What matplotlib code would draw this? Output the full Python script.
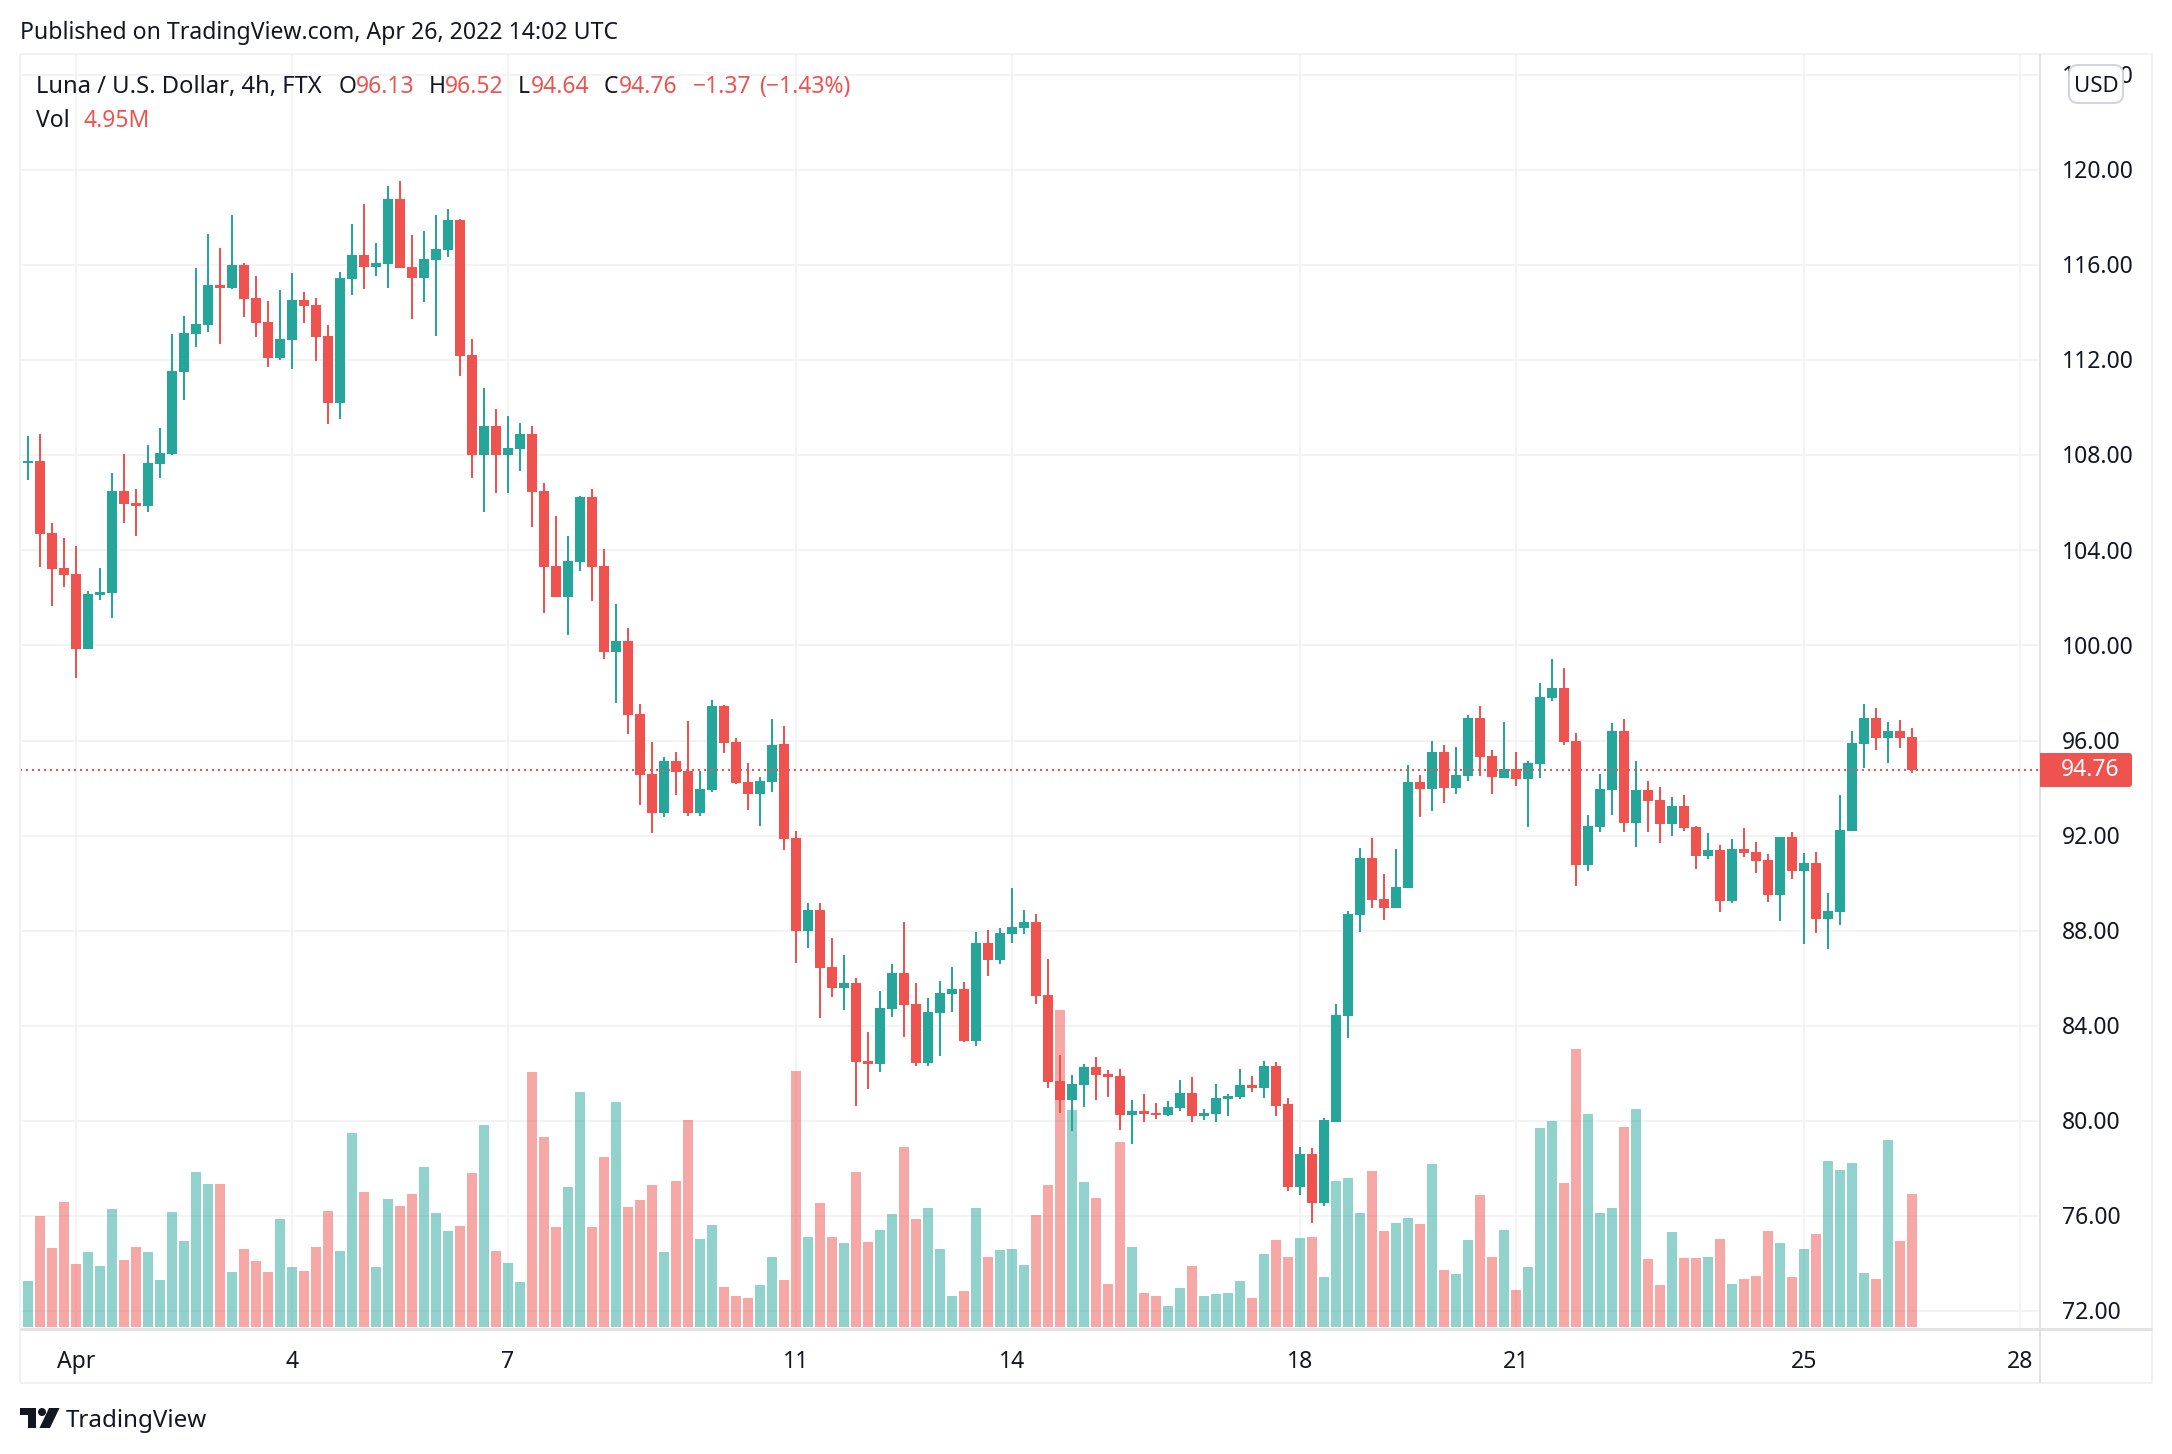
import matplotlib
matplotlib.use("Agg")
import matplotlib.pyplot as plt
from matplotlib.lines import Line2D
from matplotlib.patches import FancyBboxPatch, Polygon, Circle
from matplotlib.transforms import ScaledTranslation
import numpy as np

W, H = 2172, 1454

opens = [106.91,
 107.67,107.76,104.73,103.25,103.00,99.85,102.12,102.20,106.49,105.99,
 105.86,107.63,108.05,111.50,113.10,113.48,115.16,115.04,116.00,114.61,
 113.60,112.09,112.85,114.53,114.32,113.02,110.20,115.41,116.42,115.92,
 116.04,118.78,115.92,115.46,116.21,116.63,117.90,112.22,108.01,109.23,
 108.01,108.26,108.90,106.50,103.35,102.04,103.51,106.25,103.35,99.73,
 100.19,97.12,94.60,92.96,95.14,94.72,92.96,93.92,97.46,95.94,
 94.26,93.75,94.26,95.86,91.90,87.99,88.87,86.47,85.59,85.80,
 82.52,82.39,84.71,86.22,84.91,82.43,84.54,85.34,85.55,83.36,
 87.48,86.77,87.86,88.11,88.37,85.29,81.67,80.88,81.51,82.26,
 81.97,81.89,80.25,80.41,80.33,80.25,80.54,81.17,80.20,80.29,
 80.92,81.00,81.51,81.38,82.31,80.69,77.21,78.59,76.53,79.97,
 84.42,88.66,91.05,89.33,88.96,89.80,94.25,93.96,95.50,93.99,
 94.51,96.93,95.34,94.41,94.80,94.38,95.00,97.77,98.23,95.97,
 90.76,92.35,93.91,96.39,92.53,93.91,93.49,92.48,93.24,92.35,
 91.15,91.39,89.25,91.44,91.31,90.97,89.51,91.94,90.51,90.84,
 88.50,88.79,92.19,95.84,96.93,96.10,96.39,96.13]
highs = [107.71,
 108.81,108.89,105.15,104.52,104.18,102.29,103.25,107.25,108.05,106.58,
 108.43,109.14,113.10,113.86,115.88,117.31,116.72,118.11,116.09,115.54,
 114.49,114.95,115.67,114.87,114.61,113.48,115.71,117.73,118.57,116.93,
 119.33,119.54,117.27,117.43,118.11,118.36,117.94,112.89,110.83,109.94,
 109.65,109.35,109.24,106.84,105.45,104.61,106.29,106.59,104.06,101.75,
 100.74,97.54,95.94,95.31,95.52,96.83,94.72,97.71,97.50,96.11,
 95.06,94.47,96.91,96.62,92.19,89.17,89.17,87.69,86.98,86.01,
 83.74,85.46,86.60,88.37,85.80,85.17,85.88,86.47,85.84,87.94,
 88.03,88.11,89.80,88.87,88.70,86.81,82.77,81.93,82.39,82.69,
 82.14,82.18,80.88,81.13,80.75,80.83,81.72,81.84,80.50,81.55,
 81.13,82.18,81.89,82.52,82.48,80.98,78.92,78.84,80.10,84.93,
 88.84,91.47,91.90,90.38,91.44,94.96,94.54,95.97,95.81,95.71,
 97.06,97.45,95.60,96.77,95.50,95.15,98.41,99.41,99.04,96.31,
 92.87,94.59,96.72,96.90,95.13,94.30,94.04,93.62,93.70,92.40,
 92.11,91.60,91.86,92.32,91.73,91.23,91.94,92.15,91.26,91.31,
 89.59,93.70,96.39,97.53,97.35,96.80,96.85,96.52]
lows = [106.91,
 106.96,103.30,101.66,102.46,98.63,99.85,101.91,101.15,105.15,104.60,
 105.61,107.04,108.01,110.32,112.55,113.18,112.68,114.99,113.81,112.97,
 111.71,112.01,111.63,113.56,111.96,109.31,109.52,114.74,114.99,115.54,
 115.04,115.88,113.73,114.45,113.02,116.34,111.33,107.04,105.61,106.41,
 106.41,107.33,104.99,101.37,102.04,100.44,103.14,101.87,99.43,97.58,
 96.28,93.29,92.11,92.79,93.71,92.83,92.83,93.84,95.48,94.18,
 93.08,92.41,93.84,91.40,86.64,87.27,84.33,85.21,84.66,80.62,
 81.34,82.06,84.37,83.53,82.31,82.31,82.73,84.58,83.32,83.15,
 86.09,86.60,87.48,87.86,84.91,81.38,80.33,79.57,80.58,80.88,
 81.00,79.61,79.03,79.95,80.08,80.20,80.41,79.95,80.04,79.95,
 80.20,80.92,81.21,80.96,80.20,77.03,76.87,75.69,76.40,79.97,
 83.50,87.95,88.96,88.45,88.96,89.80,92.77,93.03,93.37,93.75,
 94.30,94.51,93.75,94.41,94.07,92.35,94.41,97.65,95.81,89.88,
 90.51,92.15,92.87,92.15,91.52,92.15,91.68,91.98,92.19,90.60,
 91.02,88.79,89.17,91.10,90.43,89.21,88.42,90.17,87.45,87.90,
 87.23,88.24,92.19,94.83,95.60,95.05,95.68,94.64]
closes = [107.71,
 107.76,104.68,103.21,102.96,99.85,102.16,102.24,106.49,105.95,105.86,
 107.67,108.09,111.54,113.14,113.52,115.16,115.04,116.00,114.57,113.56,
 112.09,112.89,114.53,114.28,112.97,110.20,115.46,116.42,115.92,116.09,
 118.78,115.88,115.46,116.26,116.68,117.90,112.17,108.01,109.23,108.01,
 108.30,108.89,106.46,103.30,102.04,103.56,106.25,103.30,99.73,100.19,
 97.08,94.55,92.96,95.14,94.68,92.96,93.96,97.46,95.90,94.22,
 93.75,94.30,95.82,91.86,87.99,88.87,86.43,85.59,85.80,82.48,
 82.39,84.75,86.22,84.87,82.43,84.58,85.38,85.55,83.36,87.48,
 86.77,87.90,88.15,88.37,85.25,81.63,80.88,81.55,82.26,81.93,
 81.84,80.25,80.41,80.29,80.25,80.58,81.17,80.20,80.33,80.96,
 81.05,81.51,81.38,82.31,80.62,77.21,78.59,76.53,80.02,84.47,
 88.71,91.05,89.30,88.96,89.85,94.25,93.96,95.50,93.99,94.54,
 96.93,95.29,94.46,94.80,94.38,95.05,97.82,98.23,95.92,90.76,
 92.40,93.96,96.39,92.53,93.91,93.45,92.48,93.24,92.32,91.15,
 91.39,89.25,91.44,91.26,90.92,89.51,91.94,90.51,90.84,88.50,
 88.84,92.23,95.89,96.93,96.10,96.39,96.10,94.76]
volumes = [3.92,
 1.71,4.13,2.94,4.65,2.34,2.79,2.27,4.39,2.49,2.98,
 2.79,1.75,4.28,3.20,5.77,5.32,5.32,2.05,2.90,2.46,
 2.05,4.02,2.23,2.08,2.98,4.32,2.83,7.22,5.02,2.23,
 4.76,4.50,4.95,5.95,4.24,3.57,3.76,5.73,7.52,2.83,
 2.38,1.67,9.49,7.07,3.72,5.21,8.75,3.72,6.33,8.37,
 4.47,4.73,5.28,2.79,5.43,7.70,3.28,3.80,1.49,1.15,
 1.08,1.56,2.61,1.75,9.53,3.35,4.62,3.35,3.13,5.77,
 3.16,3.61,4.21,6.70,4.02,4.43,2.90,1.15,1.34,4.43,
 2.61,2.87,2.90,2.31,4.17,5.28,11.80,8.08,5.40,4.80,
 1.60,6.89,2.98,1.27,1.15,0.78,1.45,2.27,1.15,1.23,
 1.27,1.71,1.08,2.72,3.24,2.61,3.31,3.35,1.86,5.43,
 5.55,4.24,5.81,3.57,3.87,4.06,3.83,6.07,2.12,1.97,
 3.24,4.91,2.61,3.61,1.38,2.23,7.41,7.67,5.36,10.35,
 7.93,4.24,4.43,7.44,8.11,2.53,1.56,3.54,2.57,2.57,
 2.61,3.28,1.60,1.79,1.90,3.57,3.13,1.86,2.90,3.46,
 6.18,5.84,6.10,2.01,1.79,6.96,3.20,4.95]

price_ticks = [72, 76, 80, 84, 88, 92, 96, 100, 104, 108, 112, 116, 120, 124]
date_ticks = [4, 22, 40, 64, 82, 106, 124, 148, 166]
date_labels = ["Apr", "4", "7", "11", "14", "18", "21", "25", "28"]
last_price = 94.76

UP, DOWN = "#26a69a", "#ef5350"
INK = "#131722"
GRID = "#f3f3f3"
BORDER = "#f0f0f5"
AXIS = "#e1e1e3"
FONT = ["Noto Sans", "DejaVu Sans"]
plt.rcParams["font.family"] = FONT

n = len(opens)
assert n == len(highs) == len(lows) == len(closes) == len(volumes) == 159
x = np.arange(-1, n - 1)
o, h, l, c = map(np.array, (opens, highs, lows, closes))
colors = [UP if cc >= oo else DOWN for oo, cc in zip(o, c)]

fig = plt.figure(figsize=(W / 100, H / 100), dpi=100, facecolor="white")

L, R, T, B = 20, 2040, 54, 1329
rect = [L / W, 1 - B / H, (R - L) / W, (B - T) / H]
xlim = ((L - 28) / 12, (R - 28) / 12)
ylim = (72 + (1311 - B) / 23.77, 72 + (1311 - T) / 23.77)
PX_M = 0.03722  # millions per pixel of height
vlim = (-(B - 1327) * PX_M, (1327 - T) * PX_M)

ax_grid = fig.add_axes(rect, zorder=1)
ax_vol = fig.add_axes(rect, zorder=2)
ax = fig.add_axes(rect, zorder=3)
for a in (ax_grid, ax_vol, ax):
    a.set_xlim(xlim)
    for s in a.spines.values():
        s.set_visible(False)
ax_grid.set_ylim(ylim)
ax.set_ylim(ylim)
ax_vol.set_ylim(vlim)
ax_vol.patch.set_visible(False)
ax.patch.set_visible(False)
ax_vol.set_xticks([]); ax_vol.set_yticks([])
ax.set_xticks([]); ax.set_yticks([])

ax_grid.set_yticks(price_ticks)
ax_grid.set_yticklabels([f"{p:.2f}" for p in price_ticks], fontsize=16.5, color=INK)
ax_grid.yaxis.tick_right()
ax_grid.tick_params(axis="y", length=0, pad=15.5)
ax_grid.set_xticks(date_ticks)
ax_grid.set_xticklabels(date_labels, fontsize=16.5, color=INK)
ax_grid.tick_params(axis="x", length=0, pad=16)
ax_grid.grid(True, color=GRID, linewidth=1.44)
ax_grid.set_axisbelow(True)
up_shift = ScaledTranslation(0, 0.8 / 100, fig.dpi_scale_trans)
for lbl in ax_grid.get_yticklabels() + ax_grid.get_xticklabels():
    lbl.set_transform(lbl.get_transform() + up_shift)

ax_vol.bar(x, volumes, width=10 / 12, color=colors, alpha=0.5, linewidth=0)

ax.bar(x, h - l, bottom=l, width=2 / 12, color=colors, linewidth=0)
ax.bar(x, np.abs(c - o), bottom=np.minimum(o, c), width=10 / 12, color=colors, linewidth=0)
ax.axhline(last_price, color=DOWN, linewidth=1.44, linestyle=(0, (1, 2)), dash_capstyle="butt")

def fx(px): return px / W
def fy(py): return 1 - py / H

def fline(x0, y0, x1, y1, col, lw=1.44):
    fig.add_artist(Line2D([fx(x0), fx(x1)], [fy(y0), fy(y1)], color=col, linewidth=lw,
                          transform=fig.transFigure, zorder=5, solid_capstyle="butt"))

# frame
fline(20, 54, 2152, 54, BORDER)
fline(20, 1383, 2152, 1383, BORDER)
fline(20, 54, 20, 1383, BORDER)
fline(2152, 54, 2152, 1383, BORDER)
fline(2040.5, 54, 2040.5, 1383, AXIS)
fline(20, 1329, 2152, 1329, AXIS, 2.0)

def ftext(px, py, s, col=INK, size=16.5, ha="left", **kw):
    return fig.text(fx(px), fy(py), s, color=col, fontsize=size, ha=ha, va="center", zorder=10, **kw)

ftext(20, 33, "Published on TradingView.com, Apr 26, 2022 14:02 UTC", size=16.6)
ftext(36, 87, "Luna / U.S. Dollar, 4h, FTX", size=17.1)
ftext(339, 87, "O"); ftext(356, 87, "96.13", DOWN)
ftext(429, 87, "H"); ftext(445, 87, "96.52", DOWN)
ftext(518, 87, "L"); ftext(531, 87, "94.64", DOWN)
ftext(604, 87, "C"); ftext(619, 87, "94.76", DOWN)
ftext(693, 87, "\u22121.37", DOWN)
ftext(759, 87, "(\u22121.43%)", DOWN)
ftext(36, 121, "Vol"); ftext(83, 121, "4.95M", DOWN)

# USD button
fig.add_artist(FancyBboxPatch((2069, H - 103), 54, 38, boxstyle="round,pad=0,rounding_size=9",
                              transform=None, facecolor="white", edgecolor="#d1d4dc", linewidth=1.44, zorder=9))
ftext(2096, 86, "USD", size=16, ha="center")

# last price tag
fig.add_artist(FancyBboxPatch((2040, H - 787), 92, 34, boxstyle="round,pad=0,rounding_size=3",
                              transform=None, facecolor=DOWN, edgecolor="none", zorder=9))
fig.add_artist(FancyBboxPatch((2040, H - 787), 20, 34, boxstyle="square,pad=0",
                              transform=None, facecolor=DOWN, edgecolor="none", zorder=9))
ftext(2061, 770, f"{last_price:.2f}", "white")

# logo
fig.add_artist(Polygon([(20, H - 1408), (36, H - 1408), (36, H - 1428), (28, H - 1428),
                        (28, H - 1415), (20, H - 1415)],
                       transform=None, facecolor=INK, edgecolor="none", zorder=9))
fig.add_artist(Circle((42, H - 1412), 4, transform=None, facecolor=INK, edgecolor="none", zorder=9))
fig.add_artist(Polygon([(49, H - 1408), (59.5, H - 1408), (50, H - 1428), (39.5, H - 1428)],
                       transform=None, facecolor=INK, edgecolor="none", zorder=9))
ftext(66, 1421, "TradingView", size=17.4)

fig.savefig("out.png", dpi=100, facecolor="white")
